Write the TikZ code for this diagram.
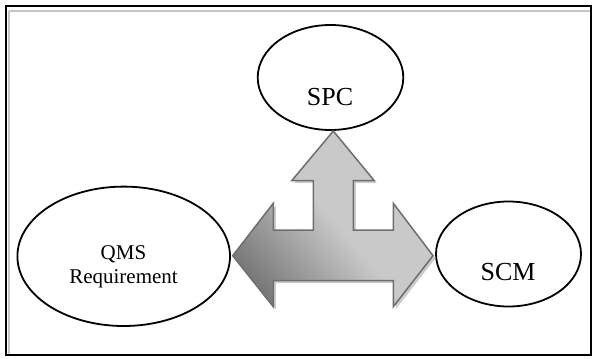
\documentclass[tikz,border=0pt]{standalone}
\usepackage{fontspec}
\setmainfont{Liberation Serif}
\usetikzlibrary{shapes.geometric}

\definecolor{arrowedge}{HTML}{6E6E6E}
\definecolor{arrowdark}{HTML}{7A7A7A}
\definecolor{arrowlight}{HTML}{C9C9C9}
\definecolor{arrowtop}{HTML}{BEBEBE}

% outline of the three-headed arrow
\newcommand{\triarrow}{(232.7,255.7) -- (273.3,203.3) -- (273.3,230) -- (313.3,230)
  -- (313.3,180.7) -- (291.7,180.7) -- (333.3,131) -- (374.3,180.7) -- (353.3,180.7)
  -- (353.3,230) -- (393.3,230) -- (393.3,203.3) -- (433,255.7) -- (393.3,306.7)
  -- (393.3,280.7) -- (273.3,280.7) -- (273.3,306.7) -- cycle}

\pgfdeclarehorizontalshading{arrowfill}{100bp}{color(0bp)=(arrowdark);
  color(24bp)=(arrowdark); color(50bp)=(arrowlight); color(75bp)=(arrowlight);
  color(100bp)=(arrowtop)}

\begin{document}
\begin{tikzpicture}[x=1pt, y=-1pt,
  bubble/.style={draw, ellipse, line width=1.8pt, inner sep=0pt},
  bigtext/.style={inner sep=0pt, font=\fontsize{26}{30}\selectfont},
  smalltext/.style={inner sep=0pt, align=center, font=\fontsize{21}{24.3}\selectfont}]
  \useasboundingbox (0,0) rectangle (593,358);

  % frame
  \draw[line width=2pt] (6,6) rectangle (591,355);
  \draw[gray!45, line width=2pt] (9,11) -- (590,11);
  \draw[gray!45, line width=2pt] (9,11) -- (9,354);

  % ellipses
  \node[bubble, minimum width=145.6pt, minimum height=105pt] (spc) at (330.5,77.5) {};
  \node[bubble, minimum width=212.6pt, minimum height=139.4pt] (qms) at (123.7,256.3) {};
  \node[bubble, minimum width=145pt, minimum height=105pt] (scm) at (508.5,254) {};

  \node[bigtext] (spctext) at (330,96.7) {SPC};
  \node[smalltext] (qmstext) at (123.5,267) {QMS\\Requirement};
  \node[bigtext] (scmtext) at (508,271.7) {SCM};

  % arrow
  \fill[gray!40, shift={(2.5,2.5)}] \triarrow;
  \draw[arrowedge, line width=1.5pt, shading=arrowfill, shading angle=40] \triarrow;
\end{tikzpicture}
\end{document}
